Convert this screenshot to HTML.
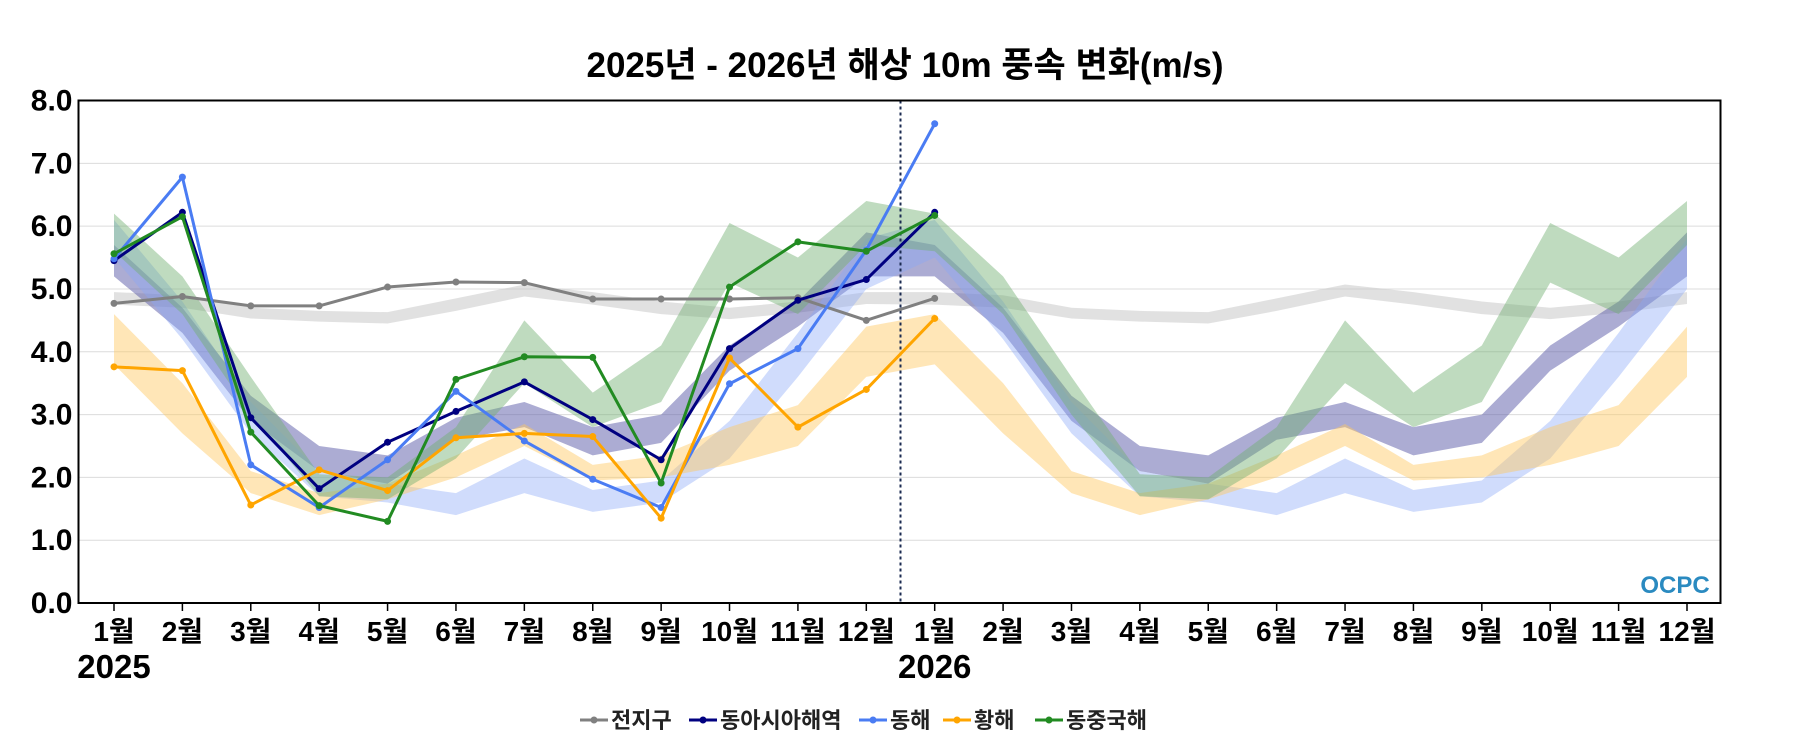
<!DOCTYPE html>
<html><head><meta charset="utf-8"><style>
body{margin:0;background:#fff;}
svg{display:block;font-family:"Liberation Sans","Noto Sans CJK KR",sans-serif;}
</style></head><body>
<svg id="c" width="1800" height="750"></svg>
<script>
const months = ['1월','2월','3월','4월','5월','6월','7월','8월','9월','10월','11월','12월','1월','2월','3월','4월','5월','6월','7월','8월','9월','10월','11월','12월'];
const yTicks = [0,1,2,3,4,5,6,7,8];
const seriesNames = ['전지구','동아시아해역','동해','황해','동중국해'];
const globalVals = [4.77,4.88,4.73,4.73,5.03,5.11,5.10,4.84,4.84,4.84,4.86,4.50,4.85];
const eastAsiaVals = [5.45,6.22,2.95,1.82,2.56,3.05,3.52,2.92,2.28,4.05,4.82,5.15,6.22];
const eastSeaVals = [5.48,6.78,2.20,1.52,2.28,3.37,2.58,1.97,1.52,3.49,4.05,5.62,7.63];
const yellowSeaVals = [3.76,3.70,1.56,2.12,1.79,2.63,2.70,2.65,1.35,3.90,2.80,3.40,4.53];
const ecsVals = [5.56,6.15,2.72,1.55,1.30,3.56,3.92,3.91,1.91,5.03,5.75,5.60,6.17];
const globalLo = [4.75,4.7,4.53,4.48,4.45,4.65,4.88,4.75,4.6,4.52,4.62,4.76];
const globalHi = [4.95,4.9,4.7,4.65,4.63,4.85,5.07,4.95,4.8,4.7,4.8,4.95];
const eastAsiaLo = [5.2,4.3,2.9,2.1,1.9,2.6,2.8,2.35,2.55,3.7,4.4,5.2];
const eastAsiaHi = [5.7,4.7,3.3,2.5,2.35,2.95,3.2,2.8,3.0,4.1,4.8,5.9];
const eastSeaLo = [5.5,4.2,2.7,1.7,1.6,1.4,1.75,1.45,1.6,2.3,3.6,5.0];
const eastSeaHi = [6.1,4.8,3.2,2.1,1.9,1.75,2.3,1.8,1.95,2.9,4.3,5.8];
const yellowSeaLo = [3.8,2.7,1.75,1.4,1.65,2.0,2.5,1.95,2.0,2.2,2.5,3.6];
const yellowSeaHi = [4.6,3.5,2.1,1.75,1.9,2.35,2.85,2.2,2.35,2.8,3.15,4.4];
const ecsLo = [5.6,4.6,3.0,1.7,1.65,2.3,3.5,2.8,3.2,5.1,4.6,5.7];
const ecsHi = [6.2,5.2,3.6,2.05,2.0,2.8,4.5,3.35,4.1,6.05,5.5,6.4];

const NS='http://www.w3.org/2000/svg';
const svg=document.getElementById('c');
const L=78.5,R=1720.5,T=100.5,B=603;
const x0=114, dx=(1687-114)/23;
const X=i=>x0+i*dx;
const Y=v=>B-(v/8)*(B-T);
function mk(tag,attrs,parent){const e=document.createElementNS(NS,tag);for(const k in attrs)e.setAttribute(k,attrs[k]);(parent||svg).appendChild(e);return e;}

yTicks.forEach(t=>{
  const g=mk('line',{x1:L,x2:R,y1:Y(t),y2:Y(t),stroke:'#dcdcdc','stroke-width':1});
  
  
  const tx=mk('text',{x:L-6,y:Y(t)+10,'text-anchor':'end','font-size':30,'font-weight':'bold',fill:'#000'});
  tx.textContent=t.toFixed(1);
  
  
});

const colors=['#808080','#000080','#4a7cf3','#ffa500','#228b22'];
const bandColors=['#c8c8c8','#5a5aa8','#8aa8f8','#ffc860','#70b070'];
const bands=[[globalLo,globalHi],[eastAsiaLo,eastAsiaHi],[eastSeaLo,eastSeaHi],[yellowSeaLo,yellowSeaHi],[ecsLo,ecsHi]];
const bandOp=[0.55,0.5,0.4,0.45,0.45];
bands.forEach((b,k)=>{
  const lo=b[0].concat(b[0]), hi=b[1].concat(b[1]);
  let d='';
  hi.forEach((v,i)=>d+=(i?'L':'M')+X(i)+','+Y(v));
  for(let i=lo.length-1;i>=0;i--)d+='L'+X(i)+','+Y(lo[i]);
  const p=mk('path',{d:d+'Z',fill:bandColors[k],'fill-opacity':bandOp[k]});
  
  
});

const dv=mk('line',{x1:(X(11)+X(12))/2,x2:(X(11)+X(12))/2,y1:T,y2:B,stroke:'#1a2a50','stroke-width':2,'stroke-dasharray':'3,3'});



const vals=[globalVals,eastAsiaVals,eastSeaVals,yellowSeaVals,ecsVals];
vals.forEach((s,k)=>{
  const pl=mk('polyline',{points:s.map((v,i)=>X(i)+','+Y(v)).join(' '),fill:'none',stroke:colors[k],'stroke-width':3,'stroke-linejoin':'round'});
  
  
  s.forEach((v,i)=>{
    const c=mk('circle',{cx:X(i),cy:Y(v),r:3.5,fill:colors[k]});
    
    
  });
});

const fr=mk('rect',{x:L,y:T,width:R-L,height:B-T,fill:'none',stroke:'#000','stroke-width':2});



months.forEach((m,i)=>{
  const tk=mk('line',{x1:X(i),x2:X(i),y1:B,y2:B+8,stroke:'#000','stroke-width':1.5});
  
  
  const t=mk('text',{x:X(i),y:641,'text-anchor':'middle','font-size':28,'font-weight':'bold',fill:'#000'});
  t.textContent=m;
  
  
});
[['2025',0],['2026',12]].forEach(a=>{
  const t=mk('text',{x:X(a[1]),y:678,'text-anchor':'middle','font-size':33,'font-weight':'bold',fill:'#000'});
  t.textContent=a[0];
  
  
});

const ti=mk('text',{x:905,y:77,'text-anchor':'middle','font-size':35,'font-weight':'bold',fill:'#000'});
ti.textContent='2025년 - 2026년 해상 10m 풍속 변화(m/s)';



const lo=mk('text',{x:1675,y:593,'text-anchor':'middle','font-size':24,'font-weight':'bold',fill:'#2a8ac0'});
lo.textContent='OCPC';



const legX=[580,689,859,943,1035];
seriesNames.forEach((n,k)=>{
  const g=mk('g',{});
  
  
  mk('line',{x1:legX[k],x2:legX[k]+28,y1:720,y2:720,stroke:colors[k],'stroke-width':3},g);
  mk('circle',{cx:legX[k]+14,cy:720,r:3.5,fill:colors[k]},g);
  const t=mk('text',{x:legX[k]+31,y:728,'font-size':22,'font-weight':'bold',fill:'#222'},g);
  t.textContent=n;
});
</script>
</body></html>
